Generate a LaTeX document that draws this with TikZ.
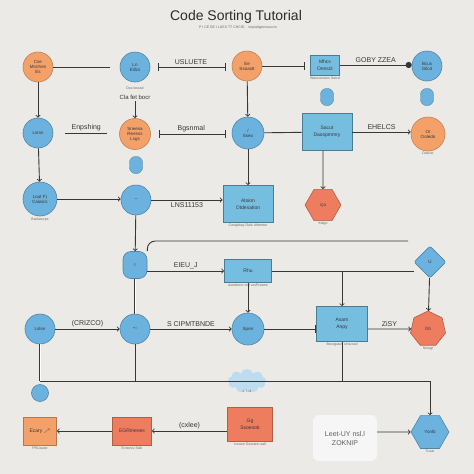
\documentclass[tikz,border=0pt]{standalone}
\usepackage{fontspec}
\setmainfont{Liberation Sans}
\usepackage{amssymb}
\usetikzlibrary{arrows, shapes.geometric, shapes.symbols}
\definecolor{paper}{RGB}{236,234,230}
\definecolor{ink}{RGB}{55,55,55}
\definecolor{bblue}{RGB}{108,178,222}
\definecolor{boxblue}{RGB}{118,190,224}
\definecolor{orng}{RGB}{244,160,105}
\definecolor{coral}{RGB}{238,125,95}

\begin{document}
\begin{tikzpicture}[x=1pt, y=-1pt]
  \tikzset{bc/.style={circle, draw=bblue!75!black, fill=bblue, line width=0.6pt, minimum size=30, inner sep=0pt, font=\fontsize{4.5}{5}\selectfont, align=center, text=ink},
    oc/.style={bc, draw=orng!80!black, fill=orng},
    bb/.style={rectangle, draw=boxblue!65!black, fill=boxblue, line width=0.7pt, inner sep=1pt, font=\fontsize{5}{7}\selectfont, align=center, text=ink},
    rbx/.style={bb, draw=coral!75!black, fill=coral},
    obx/.style={bb, draw=orng!75!black, fill=orng},
    hx/.style={bc, regular polygon, regular polygon sides=6, minimum size=36, draw=coral!75!black, fill=coral},
    rp/.style={bc, regular polygon, regular polygon sides=7, minimum size=36, draw=coral!75!black, fill=coral},
    hb/.style={bc, regular polygon, regular polygon sides=6, minimum size=38},
    dm/.style={bc, diamond, minimum size=32, rounded corners=2pt},
    bsq/.style={bc, rectangle, rounded corners=8pt, minimum width=24, minimum height=27},
    pill/.style={rectangle, rounded corners=6pt, fill=bblue, draw=bblue!75!black, minimum width=13, minimum height=17},
    lb/.style={font=\fontsize{7}{8}\selectfont, text=ink, inner sep=2pt},
    sub/.style={font=\fontsize{3.5}{4}\selectfont, text=ink!75, inner sep=1pt},
    ln/.style={draw=ink, line width=0.9pt}}
  \fill[paper] (0,0) rectangle (474,474);
  \useasboundingbox (0,0) rectangle (474,474);
  \node[font=\fontsize{14}{16}\selectfont, text=ink!80!black] (ttl) at (236,17) {Code Sorting Tutorial};
  \node[sub] (stl) at (238,28) {P I CE DE I LUES TT CHCIE;\quad impiatlgetmsoucrs};

  \node[oc] (o1) at (38,67) {Cse\\Mnnhes\\Es};
  \node[bc] (b1) at (135,67) {Ln\\Eillcs};
  \node[sub] (c1) at (135,88) {Dus tesssd};
  \node[lb, font=\fontsize{6}{7}\selectfont] (c2) at (135,97) {Cla fet bocr};
  \node[oc] (o2) at (247,66) {Ee\\Ssoastt};
  \node[bb, minimum width=29, minimum height=20, label={[sub]below:Wascotowns Sarcd}] (x1) at (325,65) {Mhcs\\Oessct};
  \node[bc] (b2) at (427,66) {Bcus\\Gilcd};

  \node[pill] (p1) at (327,97) {};
  \node[pill] (p2) at (427,97) {};

  \node[bc] (b3) at (38,133) {Lsms};
  \node[oc, minimum size=31] (o3) at (135,134) {Sneesa\\Reesss\\Lsgs};
  \node[bc, minimum size=32] (b4) at (248,133) {/\\Sseo};
  \node[bb, minimum width=50, minimum height=37] (x2) at (327,132) {Sacut\\Daospmmry};
  \node[oc, minimum size=34, label={[sub]below:Dasuer}] (o4) at (428,134) {Or\\Ooledo};

  \node[pill] (p3) at (136,165) {};

  \node[bc, minimum size=34, label={[sub]below:Backwurps}] (b5) at (40,199) {Lout F)\\Calwics};
  \node[bc] (b6) at (136,200) {--};
  \node[bb, minimum width=50, minimum height=37, label={[sub]below:Cmapfeay Dale Ahbrnter}] (x3) at (248,204) {Atsion\\Otdesation};
  \node[hx, label={[sub]below:Kdigo}] (h1) at (323,205) {/ço};

  \node[bsq] (b7) at (135,265) {=};
  \node[bb, minimum width=47, minimum height=23, label={[sub]below:Aserbicnn ctvr ursPrasms}] (x4) at (248,271) {Rhu};
  \node[dm] (d1) at (430,262) {U};

  \node[bc] (b8) at (40,329) {Lslse};
  \node[bc] (b9) at (135,329) {$\sim$};
  \node[bc, minimum size=32] (b10) at (248,329) {Spen};
  \node[bb, minimum width=51, minimum height=35, label={[sub]below:Bxcogutun Unscssd}] (x5) at (342,324) {Asam\\Anpy};
  \node[rp, label={[sub]below:Serugr}] (o5) at (428,329) {Gh};

  \node[bc, minimum size=17] (s1) at (40,393) {};
  \node[cloud, cloud puffs=9, aspect=1.6, fill=bblue!45, minimum width=38, minimum height=24, label={[sub]below:s T=d}] (cl) at (247,381) {};

  \node[obx, minimum width=33, minimum height=28, label={[sub]below:PRLisade}] (y1) at (40,431) {Ecary $\nearrow$};
  \node[rbx, minimum width=39, minimum height=28, label={[sub]below:Ecnon/u Ssib}] (y2) at (132,431) {EGRmenes};
  \node[rbx, minimum width=45, minimum height=34, label={[sub]below:rcouon Gsssenn sall}] (y3) at (250,424) {Gg\\Ssoesob};
  \node[fill=gray!7, rounded corners=6pt, minimum width=64, minimum height=46, font=\fontsize{7}{9}\selectfont, align=center, text=ink!80] (gt) at (345,438) {Leet-UY nsl.l\\ZOKNIP};
  \node[hb, label={[sub]below:Tusar}] (z1) at (430,432) {Yonlb};

  \coordinate (t1) at (408,241);
  \coordinate (j1) at (342,271);
  \coordinate (k1) at (40,381);
  \coordinate (k2) at (430,381);

  \draw[ln, shorten >=10] (o1) -- (b1);
  \draw[ln, |-|, shorten <=8, shorten >=6] (b1) -- node[lb, above]{USLUETE} (b1 -| o2.west);
  \draw[ln, -|, shorten >=5] (o2) -- (o2 -| x1.west);
  \draw[ln, -*] (x1) -- node[lb, above]{GOBY ZZEA} (x1 -| b2.west);
  \draw[ln, ->] (o1) -- (b3);
  \draw[ln, ->] (b3) -- (b5);
  \draw[ln, shorten <=12, shorten >=12] (b3) -- node[lb, above]{Enpshing} (b3 -| o3.west);
  \draw[ln, ->] (c2) -- (o3);
  \draw[ln, |-|, shorten <=8, shorten >=6] (o3) -- node[lb, above]{Bgsnmal} (o3 -| b4.west);
  \draw[ln, ->] (o2) -- (b4);
  \draw[ln] (b4) -- (x2);
  \draw[ln, ->] (x2) -- node[lb, above]{EHELCS} (x2 -| o4.west);
  \draw[ln, ->] (b4) -- (x3);
  \draw[ln, ->] (x2.south -| h1) -- (h1);
  \draw[ln, ->] (b5) -- (b5 -| b6.west);
  \draw[ln, ->] (b6) -- node[lb, below]{LNS11153} (b6 -| x3.west);
  \draw[ln, ->] (b6) -- (b7);
  \draw[ln, rounded corners=8] (b7.north east) |- (t1);
  \draw[ln, ->] (b7.east |- x4) -- node[lb, above]{EIEU\_J} (x4);
  \draw[ln] (x4) -- (x4 -| d1.west);
  \draw[ln, ->] (j1) -- (x5);
  \draw[ln, ->] (d1) -- (o5);
  \draw[ln, double, double distance=1pt] (b7) -- (b9);
  \draw[ln, ->] (x4) -- (b10);
  \draw[ln, ->] (b8) -- node[lb, above]{(CRIZCO)} (b9);
  \draw[ln, ->] (b9) -- node[lb, above]{S CIPMTBNDE} (b10);
  \draw[ln, -|] (b10) -- (b10 -| x5.west);
  \draw[ln, ->] (x5.east |- o5) -- node[lb, above]{ZiSY} (o5);
  \draw[ln, double, double distance=1pt] (b8) -- (k1);
  \draw[ln] (k1) -- (k2);
  \draw[ln] (b9) -- (b9 |- k1);
  \draw[ln] (x5) -- (x5 |- k1);
  \draw[ln, ->] (k2) -- (z1);
  \draw[ln, ->] (y2) -- (y1);
  \draw[ln, ->] (y3.west |- y2) -- node[lb, above]{(cxlee)} (y2);
  \draw[ln, ->] (gt.east |- z1) -- (z1);
\end{tikzpicture}
\end{document}
